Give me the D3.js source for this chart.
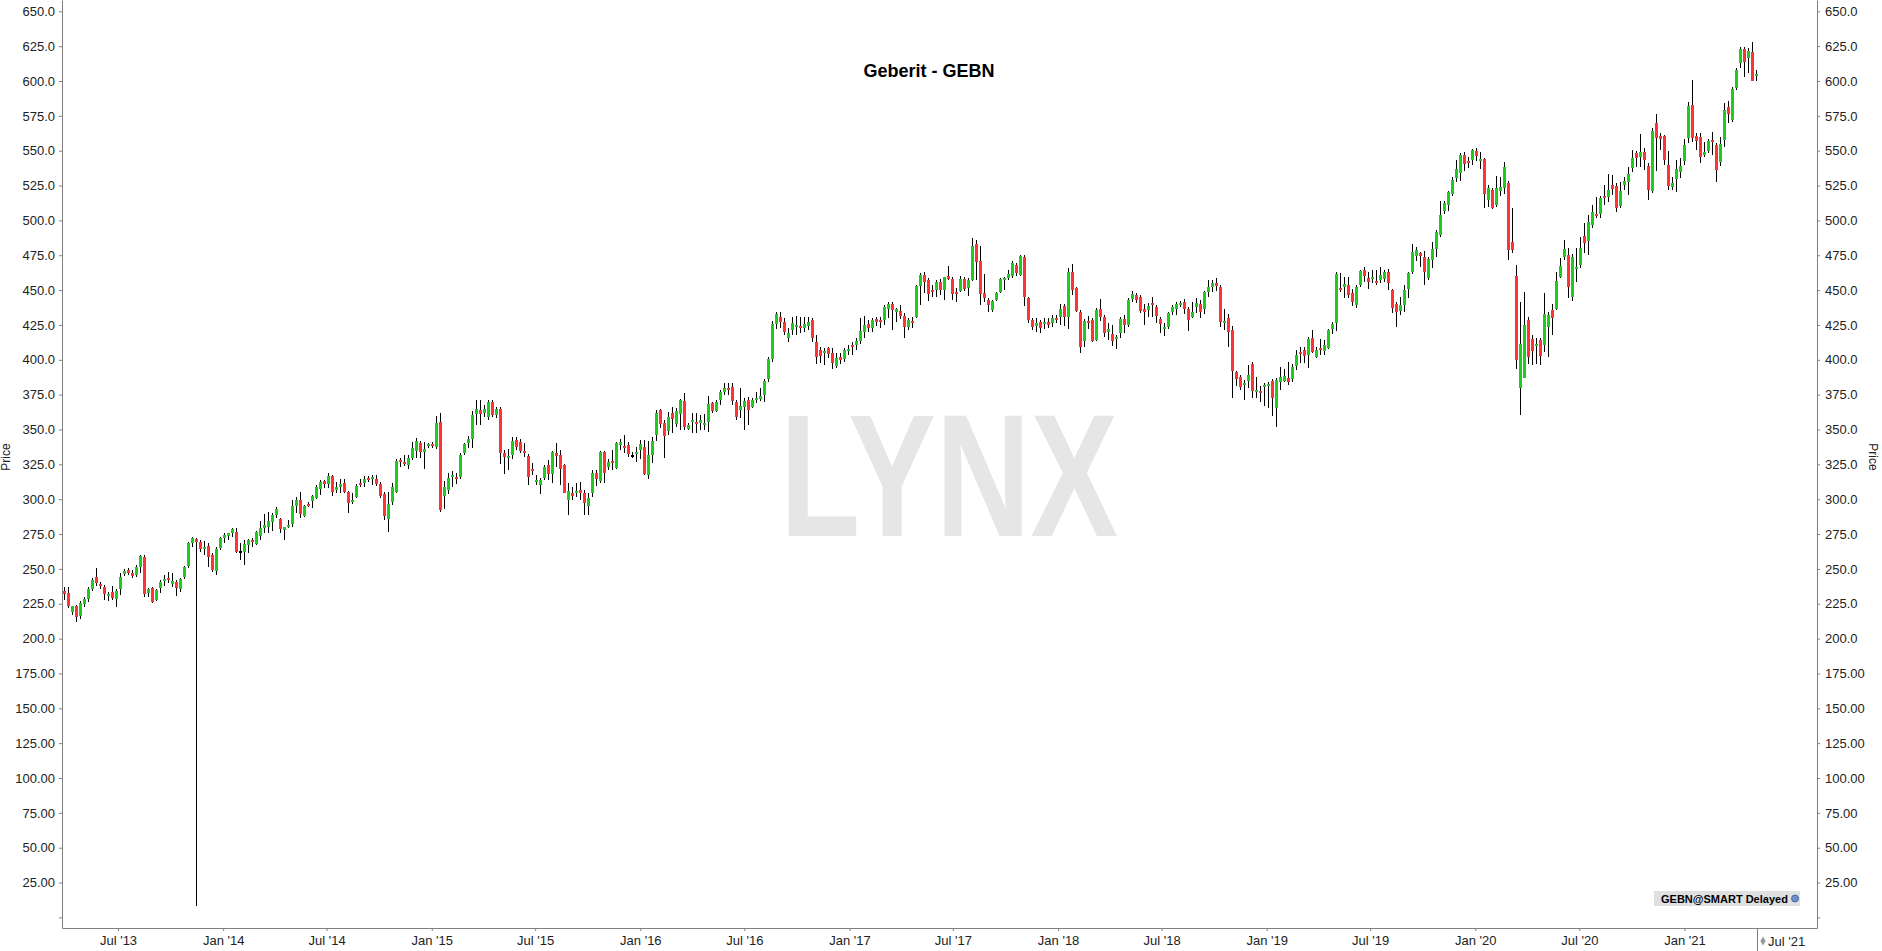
<!DOCTYPE html>
<html>
<head>
<meta charset="utf-8">
<script src="https://cdn.jsdelivr.net/npm/d3@7"></script>
<style>
  body { margin: 0; background: #fff; }
  text { font-family: "Liberation Sans", Arial, sans-serif; }
</style>
</head>
<body>
<script>
// weekly bars, first bar week of 28 Mar 2013
const firstWeek = Date.UTC(2013, 2, 28);

const open = [234,232.4,219.3,223.3,216.4,224.7,228.3,235.5,243.9,239.1,236.7,230.5,233.6,228.3,235.3,246.3,249.2,247.3,245.6,251.6,
258.3,232.4,236,227.6,236,241.3,243.7,239.1,240.8,235.3,243.9,252,268.8,271.4,269.5,264.2,266.4,259.9,248.4,264.7,
271.9,273.8,275.5,276.7,262.5,262.3,267.1,270.8,267.9,273.8,279.1,280.3,283.9,288.7,285.8,277.9,279.8,282,295.2,299.5,
288,296.6,299,301.1,307.3,313.1,310.9,316.7,306.6,309,311.4,305,297.8,301.8,311.9,311.4,315.5,314.5,314.5,310.9,
303.8,285.8,297.8,305.4,328.1,326.5,324.6,329.8,334.6,340.6,333.6,338.4,339.4,337.5,355.7,302.3,306.6,315.7,315.7,316.2,
333.4,340.1,343,361.2,364,362.1,358.8,370,360.4,364.5,333.4,330.1,331.7,342.5,341.3,334.9,331,321.7,312.6,310.2,
315,324.6,318.1,333.4,331.7,324.6,299.5,304.7,304.7,306.6,304.7,295.2,304.7,319.1,313.3,334.1,322.9,327.7,322.2,339.1,
338.2,338.9,331.8,332.7,335.3,337.7,317.4,331.7,346.1,364,354.9,348.9,361.6,354,361.1,370.5,350.4,355.6,355.6,354.4,
353.2,355.6,368.8,363.5,371.2,377.2,380,380.7,369.5,364,366.4,371.2,366.4,371.2,371.9,374.8,386.2,400.6,425.5,431,
427.4,415.9,421.4,423.8,424.3,422.6,424.5,428.6,413,407,404.6,408.7,404.6,395.8,402.2,400.6,406.3,410.6,410.6,413.5,
419.7,425.4,423.1,429.3,428.6,428.6,436.4,440,434.5,435,431.7,423.8,427.8,430.9,453.2,460.8,457.2,450.1,450.1,455.6,
450.1,460.1,458,448.9,449.4,458,451.8,457.2,482.8,470.9,447.7,442.9,435.7,442.9,448.4,457.2,458.9,460.1,468,460.8,
473.9,444.1,428.5,424.2,427.3,425.6,427.3,426.6,429.7,430.4,438.6,430.4,463.2,451.2,434.5,413.7,428,428.5,414.2,436.2,
430.4,420.1,418.5,414.6,418.9,429.2,424.9,443.3,446.4,445.2,436.2,435.7,441,438.1,429,421.8,423.2,434.5,436.4,439.5,
441.7,436.2,430.4,437.6,439.8,436.5,448.4,452.5,454.9,452.5,426.9,429.8,421.4,391.5,388,382,384.8,397,376.7,377.6,
380.8,381.2,385.1,365.2,384.3,385.1,386.7,386,395.8,405.9,407.1,403.5,415.9,402.3,408.3,406.3,408.3,422.1,426.7,451.8,
452.5,453.7,447.7,439.5,453.7,464.4,459,458,456.6,457.3,458,462.8,450.1,439.8,435.1,439.3,450.8,462.8,474.7,476.4,
474,458.9,471.6,479.5,489.6,506.8,511.1,518.7,530.2,533.8,546.9,542.6,543.4,549.8,542.9,544.1,514.7,521.8,511.1,521.1,
523.5,527.1,484.8,460.4,380,387.2,428.6,415,410.2,414.2,410.6,423.8,435.8,436.5,459.7,474,475.2,445.3,465.9,468,
488.8,485.2,496.7,504.6,504.6,517.5,517,525.4,524.7,510.6,525.4,527.8,537.8,548.1,545.7,549.3,539.3,521.1,569.6,560.5,
560.5,539.7,524.2,529.7,535,542.6,559.3,582.8,560.8,560.1,546.9,549.8,557.7,554.1,542.1,557.7,581.6,572,595.2,612.7,
623,616.7,621,604];

const high = [237,236.7,223.5,224,226.9,230,236.7,243.2,250.4,240.8,238.4,233.6,237.7,235.3,247.2,249.7,250.4,249.2,252.7,259.9,
259.9,236,236.7,235.3,242,245.6,248,247.3,242,243.2,252,269.5,272.6,271.9,270.7,270.2,268.3,261.1,265.9,272.6,
276,276,279,279,268.3,270.7,271.2,272.4,277.2,284.4,289.2,291.1,289.9,294.7,286.3,280.3,285.1,299.5,301.8,305,
295.9,298.3,303,310.2,313.8,313.8,319.1,317.4,312.6,314.5,314.5,305.9,304.2,310.7,314.5,316.9,316.9,317.4,317.4,312.1,
305,305,311.4,328.9,329.3,331.7,331.7,340.8,344.2,341.8,341.3,340.1,341.3,360,361.6,313.1,319.1,320.5,319.1,332.9,
340.6,345.4,363.5,371,371,367.6,371.2,371.2,366.4,366.4,335.3,335.8,344.4,344.4,343,340.1,332.5,326.2,317.4,315,
324.6,328.1,334.9,340.6,335.3,325.3,311.9,308.5,311.9,312.6,306.6,304.2,321,321,334.9,334.9,328.6,335.3,341.3,343,
346.1,341.3,334.1,337.7,342.5,342.5,342,344.9,364,364.7,356.8,362.8,366.4,365.2,371.9,376,354.4,361.6,361.6,360.4,
360.9,374.3,370,371.2,378.4,383.1,383.1,383.1,371.2,379.5,372.8,373.6,372.4,377.2,379.5,386.2,402.3,427.9,434.5,434.5,
430.2,422.6,431,431.7,431,431,431,429.8,417.8,409.4,408.7,409.4,408.7,404.6,404.6,408.7,410.6,413,415.4,429.8,
431.7,428.6,429.7,431,430.9,439.3,441.2,441.7,436.9,439.3,433.3,429.8,430.9,453.7,462,462.7,458.4,453.7,457.2,458,
459.6,467.5,459.6,451.3,460.4,459.6,458.9,487.6,486,481.9,461.3,444.1,442.9,448.9,458.9,459.6,464.4,471.1,469.2,475.1,
475.1,444.8,429.7,429.7,428.5,429.7,429.7,432.1,432.1,440,440,465.6,468.7,452.4,435.7,429,431.4,429.7,436.9,443.3,
432.1,426.1,424.9,417.7,430.4,432.1,444.1,449.6,447.6,446.4,440,440.5,444.8,439.3,430.9,426.1,434.5,439.3,441.7,442.4,
443.3,437.6,441.7,444.1,442.9,449.4,457.3,457.3,458.5,453.7,436.5,432.6,424.3,392,389.1,385.5,396.3,398.7,387.9,381.5,
383.2,383.9,386.3,386.7,395.1,393.4,398.7,396.8,407.1,409.5,409.5,416.6,421.4,409.5,414.9,414.2,422.1,426.9,463.2,462,
459.7,459.7,450.8,453.7,464.4,466.8,462.8,464.4,464.4,466.8,464.4,465.2,450.8,441.7,444.8,453.7,463.2,482.9,481.2,477.6,
478.1,474,484.8,493.2,513.9,513.9,521.1,531.4,543.4,548.1,548.9,545.8,551.3,551.7,549.3,545.1,525.4,523,532.1,531.4,
542.2,528.3,509.2,468,441.7,448.4,431,417.8,415.9,415.4,447.7,434.6,439.8,463.2,473.3,486,480,475.7,480,488.4,
497.9,503.9,511.1,517,517.5,525.4,533,532.6,526.6,527.8,531.4,538.5,550.5,549.8,561.7,551.7,540.9,566,576.1,562.5,
561.3,549.8,531.4,543.3,544.5,558.4,585.2,600.7,562.5,562.5,556.5,558.4,563.7,555.3,560.1,584,585.7,595.9,609.6,624.6,
624.6,623.9,628.2,607.9];

const low = [228,221.6,217,212,214,222.8,226.4,234.3,237.7,235.3,227.6,227,227.6,222.8,231,244.9,245.6,243.2,243.9,247.3,
230,229.5,225.7,227,232.9,237.7,239.6,236.7,230.5,233.4,242.5,250.4,265.9,8,262.3,259.9,251.6,248,245.6,263.5,
268.3,270.7,272.6,261.1,256.3,252.7,261.6,265.9,267.2,270.8,275.5,275.5,277.2,286.8,275.5,270.8,279.6,280.3,289.9,286.3,
287.5,294.7,294,300.2,303,307.8,308.3,302.6,304.2,304.2,304.2,289.9,296.3,301.1,309,309,312.1,310.2,309.5,301.1,
285.1,276.7,295.9,304.2,323.4,324.1,321.7,328.1,329.3,329.3,321.5,337,336.5,336,291.1,292.8,303.8,308.5,310.9,314.3,
331.7,336.5,336.5,353.3,353.3,358.8,356.9,358.8,358,325.3,318.1,321,328.6,335.3,332.9,330.5,310.2,317.4,310.2,303.5,
313.8,313.8,311.9,323.4,310.2,304.2,288.7,299.5,301.4,299.5,288.7,288.7,301.8,309.5,311.9,311.9,321,321,321.5,335.3,
332.9,330.1,329.3,327,328.6,317.4,314.3,325.7,341.8,351.3,329.8,346.1,347.3,352.1,349.7,349.7,349.7,347.3,347.3,349.7,
349.7,348,361.6,362.8,367.6,374.8,374.8,367.6,356.8,358,349.7,353.2,365.2,368.8,370.5,370,384.3,398.7,422.1,423.1,
417.8,413,417.8,417.8,419,420.2,421.4,413,396.8,397.5,396.3,401.1,393.4,393.9,396.7,398.7,403.4,403.4,407,411.1,
415.4,419.7,419.7,424.5,423.1,425,429.7,421.4,427.4,429.3,415.9,421.4,422.6,430.2,439.3,447.7,442.2,445.3,445.3,446.5,
442.9,457.2,442.9,441.7,448.9,449.4,446,456.5,457.2,439.3,441.2,434,434,442.2,447.7,450.1,457.2,458.4,460.1,460.1,
438.6,426.1,421.3,420.1,419.4,421.8,422.5,423.2,426.6,424.9,424.2,421.8,446.4,434.5,405.1,409.4,421.8,413,413.7,428,
416.1,414.2,409.9,407.5,415.4,419.4,423.2,441.7,440.5,433.8,424.9,430.9,430.4,426.1,418.9,417,421.8,432.1,432.1,438.1,
432.8,420.8,429.7,433.8,430.3,432.6,445.3,448.4,449.4,423.8,421.4,409.5,372.4,381.5,378.4,371.2,379.6,372.4,372.4,370,
367.1,365.2,360,352.1,378.4,383.9,382,384.3,392.7,397.5,397.5,393.9,404.7,401.1,403.5,403.5,407.8,418.3,420.7,448.9,
444.1,444.6,438.9,437.4,452.5,456.1,450.8,454.9,453.7,454.9,456.1,450.1,433.4,423.8,432.2,434.1,444.6,461.3,470.9,466.8,
453.7,457.3,466.1,474,488.4,504.4,506.8,517.8,527.8,528.3,535.5,537.4,539.8,542.6,536.9,508.7,509.9,508.2,509.9,517.8,
518.7,471.6,476.4,393.4,360.4,386.7,396.8,396.3,396.8,396.3,405.9,402.3,417.8,435.8,458.5,471.6,444.6,442.2,455.6,465.7,
476.4,475.2,494.3,501.5,501.5,511.1,513.4,518.2,506.3,508.7,521.8,518.2,535,538.5,538.5,536.2,514.6,519.4,535.4,550.5,
539.7,521.8,521.8,520.6,530.7,539.7,555.3,556.5,550.5,540.9,545.7,548.1,546.9,527.8,539.3,552.9,569.6,570.4,593.5,609.6,
603.1,605.5,600,600];

const close = [232,223.6,223.3,215.7,225.2,228.3,235.5,242,240.1,237.7,232,232,228.8,234.3,243.9,248.7,246.8,244.9,251.1,259.2,
231.7,235.3,226.4,234.8,240.8,242.7,242,241.3,236.5,242.5,251.1,268.8,271.9,269.5,264.2,265.9,258.3,249.2,264.2,271.9,
274.3,275.5,278.3,262.3,262.5,267.8,270.7,269.1,276.3,279.1,281.5,284.4,288.7,293,278.6,279.8,281.5,295.2,299.5,289.4,
295.2,295.2,302.3,309,312.6,310.9,316.7,305,309,310.7,305,297.5,299.5,309.5,310.2,314.5,313.8,316.2,310.7,302.3,
288,296.6,309,327.4,326.5,325,329.8,336.5,341.8,333.6,336,339.4,338.4,354.7,292.3,308.5,315,317.4,314.5,331.7,
339.6,343,360.4,364.5,361.2,364.5,370,360.4,364.5,333.4,330.1,331.3,342,337.7,334.9,333.4,316.2,320.5,313.8,313.8,
323.4,318.1,334.1,331.3,321.7,304.7,306.2,302.3,306.2,304.7,297.1,301.1,319.1,314.3,334.1,319.1,326.9,326.2,340.1,341.3,
337,332.5,331.8,334.1,339.6,318.1,331.7,342,362.1,354,345.6,359.2,357.5,363.3,371.2,352.1,353.2,356.8,354,356.8,
354.9,368.3,363.5,370,377.2,380,378.4,370.5,359.2,367.1,370.5,364,371.2,372.4,374.3,384.8,400.6,425.5,432.6,427.4,
420.2,419.5,426.2,425,423.1,425.5,427.4,415.9,402.3,403,406.3,403.9,397.5,401.5,399.9,407,407.7,409.2,413.5,420.7,
425,422.6,428.6,426.9,426.9,438.1,440,435.7,436.4,431.7,423.8,428.6,426.9,452.9,460.8,455.6,447,448.9,455.6,450.1,
459.6,458,447.2,447.2,458,450.6,457.2,481.9,469.9,447,444.1,439.3,442.2,447.7,458,458.4,461.3,469.2,462.5,474.4,
444.8,428.5,423.7,426.1,422.5,427.3,424.9,429.7,428.5,436.2,430.4,463.2,450,435.2,409.4,428,426.6,413.7,435.7,430.4,
419.4,422.1,413.7,416.1,429.2,424.9,442.9,447.2,442.9,435.2,434.5,438.6,439.3,431.4,425.6,423.7,433.3,438.1,440,441,
436.4,428.5,434.5,441,434.6,448.4,452.5,455.4,453.2,427.4,427.9,420.2,392.2,386,380.8,383.6,389.1,377.6,378.4,376.4,
382,382.7,372.9,385.5,387.4,388.6,384.3,395.1,403.5,404.7,403,414.9,405.9,407.1,407.1,410.6,421.4,425.5,461.3,450.1,
454.2,446.5,441.7,452.5,463.7,460.4,456.1,459.7,455.1,460.9,462.8,454.9,437.4,434.6,439.3,450.1,462,477.1,478.8,474.7,
463.3,472.3,479.5,491.5,503.9,512.3,520.2,529,536.9,546.9,540.3,541.7,550.5,546.5,544.1,518.7,523.5,508.7,523,524.2,
538.6,478.8,478.8,399.9,411.4,425,402.3,406.3,411.4,403,432.9,432.2,429.8,456.6,467.3,479.5,452.5,474,466.4,480,
483.5,499.1,505.8,503.2,516.3,516.3,521.8,522.5,509.1,521.1,528.3,533,545,545,548.8,543.3,521.8,564.1,559.4,558.4,
543.3,524.9,526.6,536.6,539,554.1,582.3,559.3,557,545.7,548.8,557,556,536.2,554.6,579.2,576.3,594.3,607.9,623,
613.9,621.5,600.2,605];

// axis ticks
const priceTicks = [0,25,50,75,100,125,150,175,200,225,250,275,300,325,350,375,400,425,450,475,500,525,550,575,600,625,650];
const dateTicks = ["2013-07-01","2014-01-01","2014-07-01","2015-01-01","2015-07-01","2016-01-01","2016-07-01","2017-01-01",
  "2017-07-01","2018-01-01","2018-07-01","2019-01-01","2019-07-01","2020-01-01","2020-07-01","2021-01-01"];
const dateLabels = ["Jul '13","Jan '14","Jul '14","Jan '15","Jul '15","Jan '16","Jul '16","Jan '17",
  "Jul '17","Jan '18","Jul '18","Jan '19","Jul '19","Jan '20","Jul '20","Jan '21"];
const lastLabel = "Jul '21";

const W = 1882, H = 951;
const left = 62, right = 1817, bottom = 928;

const bars = open.map((o, i) => ({
  date: new Date(firstWeek + i * 7 * 864e5),
  o: o, h: high[i], l: low[i], c: close[i]
}));

const x = d3.scaleUtc()
  .domain([new Date(Date.UTC(2013, 2, 25)), new Date(Date.UTC(2021, 7, 21))])
  .range([left, right]);
const y = d3.scaleLinear().domain([-7.6, 658.1]).range([bottom, 0]);

const svg = d3.select("body").append("svg")
  .attr("width", W).attr("height", H)
  .style("display", "block");

// watermark
svg.append("text")
  .attr("transform", "translate(949,536) scale(0.75,1)")
  .attr("text-anchor", "middle")
  .style("font-size", "175px")
  .style("font-weight", "bold")
  .style("fill", "#e6e6e6")
  .text("LYNX");

// title
svg.append("text")
  .attr("x", 929).attr("y", 77)
  .attr("text-anchor", "middle")
  .style("font-size", "18px").style("font-weight", "bold")
  .style("fill", "#000")
  .text("Geberit - GEBN");

const fmt = v => v === 0 ? "" : (v >= 200 ? v.toFixed(1) : v.toFixed(2));

const styleAxis = g => {
  g.select(".domain").attr("stroke", "#808080");
  g.selectAll(".tick line").attr("stroke", "#808080");
  g.selectAll(".tick text").style("font-size", "13px").style("fill", "#222");
};

svg.append("g").attr("transform", `translate(${left},0)`)
  .call(d3.axisLeft(y).tickValues(priceTicks).tickFormat(fmt).tickSize(3).tickPadding(4).tickSizeOuter(0))
  .call(styleAxis);

svg.append("g").attr("transform", `translate(${right},0)`)
  .call(d3.axisRight(y).tickValues(priceTicks).tickFormat(fmt).tickSize(3).tickPadding(5).tickSizeOuter(0))
  .call(styleAxis);

svg.append("g").attr("transform", `translate(0,${bottom})`)
  .call(d3.axisBottom(x).tickValues(dateTicks.map(d => new Date(d + "T00:00:00Z")))
    .tickFormat((d, i) => dateLabels[i]).tickSize(3).tickPadding(5).tickSizeOuter(0))
  .call(styleAxis);

// "Price" axis titles
svg.append("text")
  .attr("transform", "translate(10,457) rotate(-90)")
  .attr("text-anchor", "middle")
  .style("font-size", "12px").style("fill", "#222")
  .text("Price");
svg.append("text")
  .attr("transform", "translate(1869,457) rotate(90)")
  .attr("text-anchor", "middle")
  .style("font-size", "12px").style("fill", "#222")
  .text("Price");

// candles
const g = svg.append("g").attr("shape-rendering", "crispEdges");
const cx = d => Math.round(x(d.date));

g.selectAll("rect.wick").data(bars).join("rect")
  .attr("class", "wick")
  .attr("x", d => cx(d))
  .attr("width", 1)
  .attr("y", d => y(d.h))
  .attr("height", d => Math.max(1, y(d.l) - y(d.h)))
  .attr("fill", "#000");

g.selectAll("rect.body").data(bars).join("rect")
  .attr("class", "body")
  .attr("x", d => cx(d) - 1)
  .attr("width", 3)
  .attr("y", d => y(Math.max(d.o, d.c)))
  .attr("height", d => Math.max(2, Math.abs(y(d.o) - y(d.c))))
  .attr("fill", d => d.c > d.o ? "#1ecb1e" : d.c < d.o ? "#ff3333" : "#000");

// current bar marker on the time axis
const last = bars[bars.length - 1];
svg.append("line")
  .attr("x1", cx(last) + 1.5).attr("x2", cx(last) + 1.5)
  .attr("y1", bottom).attr("y2", H)
  .attr("stroke", "#808080");
svg.append("path")
  .attr("d", d3.symbol(d3.symbolDiamond, 24)())
  .attr("transform", `translate(${cx(last) + 7},941)`)
  .attr("fill", "#999");
svg.append("text")
  .attr("x", cx(last) + 12).attr("y", 946)
  .style("font-size", "13px").style("fill", "#222")
  .text(lastLabel);

// data source tag
const tag = svg.append("g").attr("transform", "translate(1654,891)");
tag.append("rect").attr("width", 146).attr("height", 15).attr("fill", "#e0e0e0");
tag.append("text").attr("x", 7).attr("y", 11.5)
  .style("font-size", "11px").style("font-weight", "bold").style("fill", "#000")
  .text("GEBN@SMART Delayed");
tag.append("circle").attr("cx", 141).attr("cy", 7.5).attr("r", 3.5)
  .attr("fill", "#6f8fc9").attr("stroke", "#34539a").attr("stroke-width", 0.8);
</script>
</body>
</html>
